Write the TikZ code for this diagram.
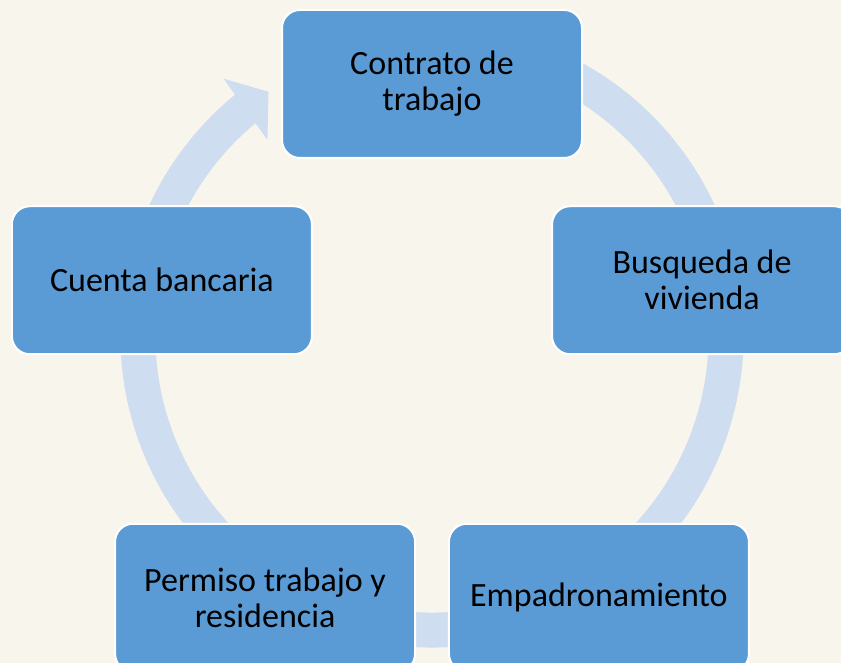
\documentclass[tikz,border=0pt]{standalone}
\usepackage{fontspec}
\setmainfont{Carlito}
\definecolor{fondo}{HTML}{F8F6EC}
\definecolor{caja}{HTML}{5B9BD5}
\definecolor{anillo}{HTML}{CEDDEF}

\begin{document}
\begin{tikzpicture}[x=1pt, y=1pt,
    paso/.style={draw=white, line width=2pt, fill=caja, rounded corners=18pt,
      minimum width=300pt, minimum height=148pt, align=center,
      font=\fontsize{34}{36}\selectfont}]
    \useasboundingbox (0,0) rectangle (841,663);
    \clip (0,0) rectangle (841,663);
    \fill[fondo] (0,0) rectangle (841,663);

    \coordinate (centro) at (432,327);
    \coordinate (medio) at (432,295);

    % anillo con flecha
    \draw[anillo, line width=35pt] ([shift={(75:294pt)}]centro) arc (75:-231:294pt);
    \fill[anillo, shift={(centro)}] (129:331pt) -- (123.8:294pt) -- (130:256pt) -- cycle;

    \node[paso] (contrato) at ([shift={(90:284pt)}]medio) {Contrato de\\trabajo};
    \node[paso] (busqueda) at ([shift={(18:284pt)}]medio) {Busqueda de\\vivienda};
    \node[paso] (empadronamiento) at ([shift={(-54:284pt)}]medio) {Empadronamiento};
    \node[paso] (permiso) at ([shift={(234:284pt)}]medio) {Permiso trabajo y\\residencia};
    \node[paso] (cuenta) at ([shift={(162:284pt)}]medio) {Cuenta bancaria};

\end{tikzpicture}
\end{document}
